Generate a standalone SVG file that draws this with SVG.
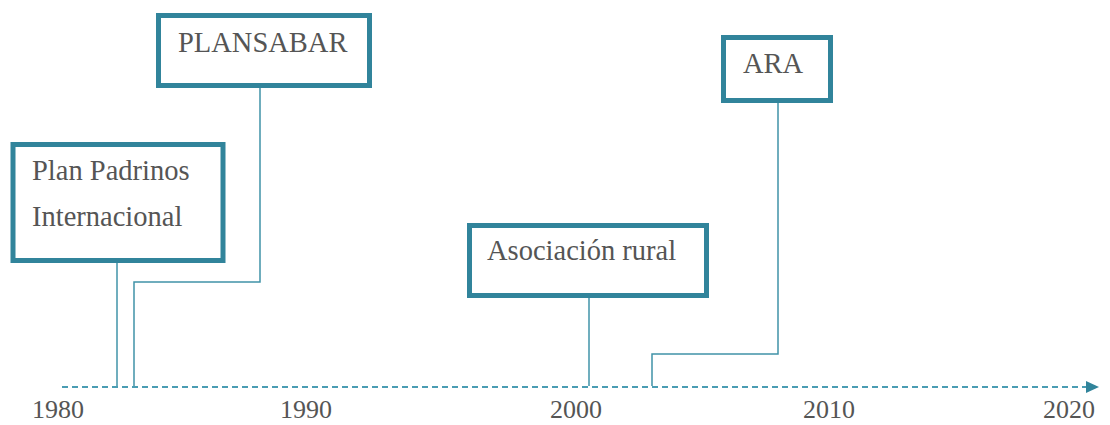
<svg xmlns="http://www.w3.org/2000/svg" width="1110" height="425" viewBox="0 0 1110 425">
<style>
.box{fill:#fff;stroke:#31849b;stroke-width:5}
.lbl{font-family:"Liberation Serif","Times New Roman",serif;font-size:28.5px;fill:#555}
.yr{font-family:"Liberation Serif","Times New Roman",serif;font-size:26px;fill:#555}
.conn{fill:none;stroke:#4093a8;stroke-width:1.5}
.axis{fill:none;stroke:#4a9db3;stroke-width:2;stroke-dasharray:6 4}
</style>
<rect width="1110" height="425" fill="#fff"/>
<g id="connectors">
<polyline class="conn" points="117,263 117,386"/>
<polyline class="conn" points="260,88 260,282 134,282 134,386"/>
<polyline class="conn" points="589,298 589,386"/>
<polyline class="conn" points="778,103 778,354 652,354 652,386"/>
</g>
<g id="axis">
<line class="axis" x1="62" y1="387" x2="1088" y2="387"/>
<polygon points="1086,381 1099,387 1086,393" fill="#31849b"/>
<text class="yr" x="58" y="418" text-anchor="middle">1980</text>
<text class="yr" x="306" y="418" text-anchor="middle">1990</text>
<text class="yr" x="576" y="418" text-anchor="middle">2000</text>
<text class="yr" x="829" y="418" text-anchor="middle">2010</text>
<text class="yr" x="1069" y="418" text-anchor="middle">2020</text>
</g>
<g id="node-plan-padrinos">
<rect class="box" x="13" y="144.5" width="210" height="116"/>
<text class="lbl" x="32" y="180">Plan Padrinos</text>
<text class="lbl" x="32" y="226">Internacional</text>
</g>
<g id="node-plansabar">
<rect class="box" x="158.5" y="15.5" width="211" height="70"/>
<text class="lbl" x="178" y="52">PLANSABAR</text>
</g>
<g id="node-asociacion">
<rect class="box" x="469.5" y="225.5" width="237" height="70"/>
<text class="lbl" x="487" y="260">Asociación rural</text>
</g>
<g id="node-ara">
<rect class="box" x="723.5" y="37.5" width="107" height="63"/>
<text class="lbl" x="743" y="73">ARA</text>
</g>
</svg>
